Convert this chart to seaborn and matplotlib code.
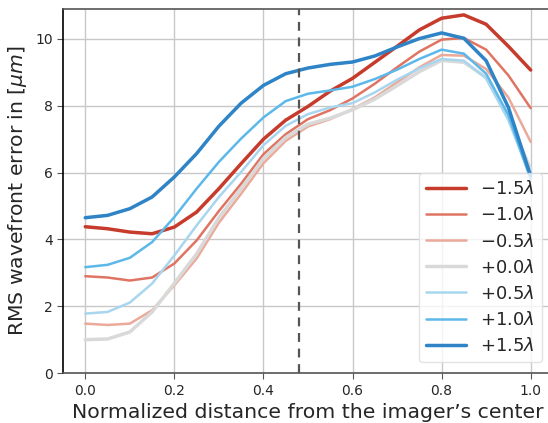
import numpy as np
import pandas as pd
import matplotlib
matplotlib.use("Agg")
import matplotlib.pyplot as plt
import seaborn as sns

# ---- data ----
distance = [0.00, 0.05, 0.10, 0.15, 0.20, 0.25, 0.30, 0.35, 0.40, 0.45, 0.50,
            0.55, 0.60, 0.65, 0.70, 0.75, 0.80, 0.85, 0.90, 0.95, 1.00]

defocus_labels = [r"$-1.5\lambda$", r"$-1.0\lambda$", r"$-0.5\lambda$", r"$+0.0\lambda$",
                  r"$+0.5\lambda$", r"$+1.0\lambda$", r"$+1.5\lambda$"]

m15 = [4.38, 4.32, 4.22, 4.17, 4.37, 4.82, 5.52, 6.27, 7.00, 7.57, 7.98,
       8.44, 8.82, 9.30, 9.78, 10.27, 10.62, 10.72, 10.44, 9.78, 9.07]
m10 = [2.90, 2.86, 2.77, 2.86, 3.28, 3.97, 4.85, 5.67, 6.55, 7.15, 7.60,
       7.87, 8.22, 8.66, 9.15, 9.62, 9.98, 10.03, 9.68, 8.91, 7.93]
m05 = [1.48, 1.44, 1.48, 1.88, 2.63, 3.43, 4.50, 5.37, 6.28, 6.95, 7.38,
       7.60, 7.90, 8.25, 8.70, 9.15, 9.52, 9.50, 9.10, 8.25, 6.92]
p00 = [1.00, 1.02, 1.23, 1.83, 2.69, 3.57, 4.65, 5.52, 6.42, 7.05, 7.45,
       7.63, 7.88, 8.20, 8.60, 9.02, 9.36, 9.30, 8.85, 7.65, 6.10]
p05 = [1.78, 1.83, 2.11, 2.68, 3.52, 4.42, 5.27, 6.02, 6.82, 7.40, 7.75,
       7.95, 8.08, 8.40, 8.78, 9.12, 9.40, 9.35, 8.82, 7.57, 5.85]
p10 = [3.17, 3.24, 3.45, 3.92, 4.67, 5.52, 6.32, 7.02, 7.65, 8.14, 8.36,
       8.46, 8.57, 8.80, 9.08, 9.40, 9.68, 9.56, 8.96, 7.72, 5.80]
p15 = [4.65, 4.72, 4.92, 5.27, 5.87, 6.57, 7.39, 8.08, 8.61, 8.96, 9.13,
       9.24, 9.31, 9.49, 9.76, 10.01, 10.18, 10.02, 9.35, 7.95, 5.90]

series = [m15, m10, m05, p00, p05, p10, p15]
colors = ["#c63b2b", "#e07462", "#eba999", "#d9d9d9", "#a8d6ef", "#5db8ea", "#2e84c6"]
widths = [2.5, 1.8, 1.8, 2.5, 1.8, 1.8, 2.5]

vline_x = 0.48

# ---- figure ----
sns.set_style("ticks", {"axes.grid": True, "grid.color": "#c8c8c8"})
fig = plt.figure(figsize=(5.48, 4.23), dpi=100)
ax = fig.add_axes([0.115, 0.118, 0.894, 0.861])

for lab, vals, c, lw in zip(defocus_labels, series, colors, widths):
    df = pd.DataFrame({"x": distance, "y": vals})
    sns.lineplot(data=df, x="x", y="y", ax=ax, color=c, linewidth=lw, label=lab)

ax.axvline(vline_x, color="#555555", linestyle="--", linewidth=1.6, dashes=(4, 3))

ax.set_xlim(-0.05, 1.05)
ax.set_ylim(0, 10.9)
ax.set_xticks([0.0, 0.2, 0.4, 0.6, 0.8, 1.0])
ax.set_yticks([0, 2, 4, 6, 8, 10])
ax.grid(True, color="#c8c8c8", linewidth=1.0)
ax.tick_params(labelsize=10, length=4, color="#555555")

ax.set_xlabel("Normalized distance from the imager\u2019s center", fontsize=14.7)
ax.set_ylabel(r"RMS wavefront error in [$\mu m$]", fontsize=14.7)

ax.spines["left"].set_color("black")
ax.spines["top"].set_color("#555555")
ax.spines["bottom"].set_color("#555555")
ax.spines["right"].set_color("#555555")
for s in ax.spines.values():
    s.set_linewidth(1.2)

leg = ax.legend(loc="lower right", fontsize=13, frameon=True, labelspacing=0.45,
                handlelength=2.2, borderaxespad=0.6)
leg.get_frame().set_edgecolor("#dddddd")

fig.savefig("out.png", dpi=100)
